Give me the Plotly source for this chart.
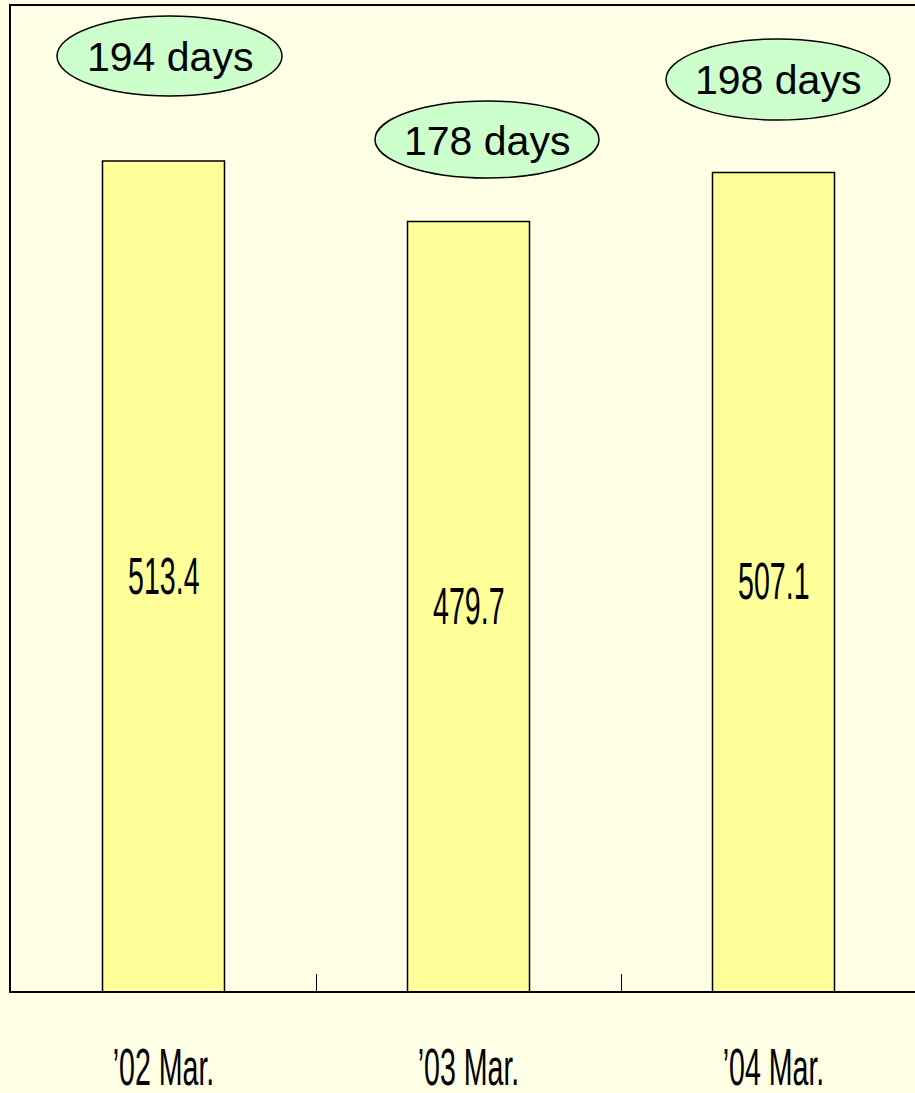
import plotly.graph_objects as go

categories = ["’02 Mar.", "’03 Mar.", "’04 Mar."]
values = [513.4, 479.7, 507.1]
days = [194, 178, 198]
value_labels = ["513.4", "479.7", "507.1"]

W, H = 915, 1093
ML, MT, MB, MR = 11, 6, 102, 0
PW = W - ML - MR
PH = H - MT - MB
YMIN, YMAX = 50, 600
CAT_PX = 305.0

BG = "#FFFFE6"
BAR = "#FFFF99"
ELL = "#CCFFCC"
ARIAL = "Liberation Sans, Arial, sans-serif"
SQUEEZE = 0.56

fig = go.Figure()
fig.add_trace(go.Bar(
    x=categories, y=values, width=0.4,
    marker=dict(color=BAR, line=dict(color="black", width=1.5)),
    hoverinfo="skip", showlegend=False,
))

# value labels in middle of visible bar
for c, v, t in zip(categories, values, value_labels):
    fig.add_annotation(x=c, y=(YMIN + v) / 2, text=t, showarrow=False,
                       font=dict(family=ARIAL, size=51, color="black"),
                       xanchor="center", yanchor="middle")

def px2paper_x(px):
    return (px - ML) / PW

def px2paper_y(py):
    return (MT + PH - py) / PH

# ellipses (pixel boxes)
ell_boxes = [(57, 16, 282, 96), (375, 101, 599, 178), (666, 39, 890, 120)]
for (x0, y0, x1, y1), d in zip(ell_boxes, days):
    fig.add_shape(type="circle", xref="paper", yref="paper",
                  x0=px2paper_x(x0), x1=px2paper_x(x1),
                  y0=px2paper_y(y1), y1=px2paper_y(y0),
                  fillcolor=ELL, line=dict(color="black", width=1.5), layer="above")
    fig.add_annotation(xref="paper", yref="paper",
                       x=px2paper_x((x0 + x1) / 2), y=px2paper_y((y0 + y1) / 2 + 1),
                       text=f"{d} days", showarrow=False,
                       font=dict(family=ARIAL, size=41, color="black"),
                       xanchor="center", yanchor="middle")

fig.update_layout(
    width=W, height=H,
    margin=dict(l=ML, r=MR, t=MT, b=MB, pad=0, autoexpand=False),
    paper_bgcolor=BG, plot_bgcolor=BG,
    xaxis=dict(
        type="category", range=[-0.5, -0.5 + PW / CAT_PX],
        automargin=False,
        showline=True, linecolor="black", linewidth=2, mirror=True,
        ticks="inside", tickson="boundaries", ticklen=17, tickwidth=1, tickcolor="black",
        showgrid=False, zeroline=False,
        tickfont=dict(family=ARIAL, size=51, color="black"),
        ticklabelstandoff=31,
    ),
    yaxis=dict(
        range=[YMIN, YMAX], automargin=False,
        showline=True, linecolor="black", linewidth=2,
        showticklabels=False, ticks="", showgrid=False, zeroline=False,
    ),
)

post = """
document.body.style.margin = '0';
document.body.style.overflow = 'hidden';
var gd = document.getElementById('{plot_id}');
var S = %s;
function squeeze(el) {
  var b = el.getBBox();
  var cx = b.x + b.width / 2;
  var t = el.getAttribute('transform') || '';
  el.setAttribute('transform', t + ' translate(' + cx + ',0) scale(' + S + ',1) translate(' + (-cx) + ',0)');
}
gd.querySelectorAll('.annotation-text').forEach(function(el) {
  if (el.textContent.indexOf('days') < 0) squeeze(el);
});
gd.querySelectorAll('.xtick text').forEach(squeeze);
""" % SQUEEZE

fig.write_html("out.html", post_script=post, config={"displayModeBar": False})
